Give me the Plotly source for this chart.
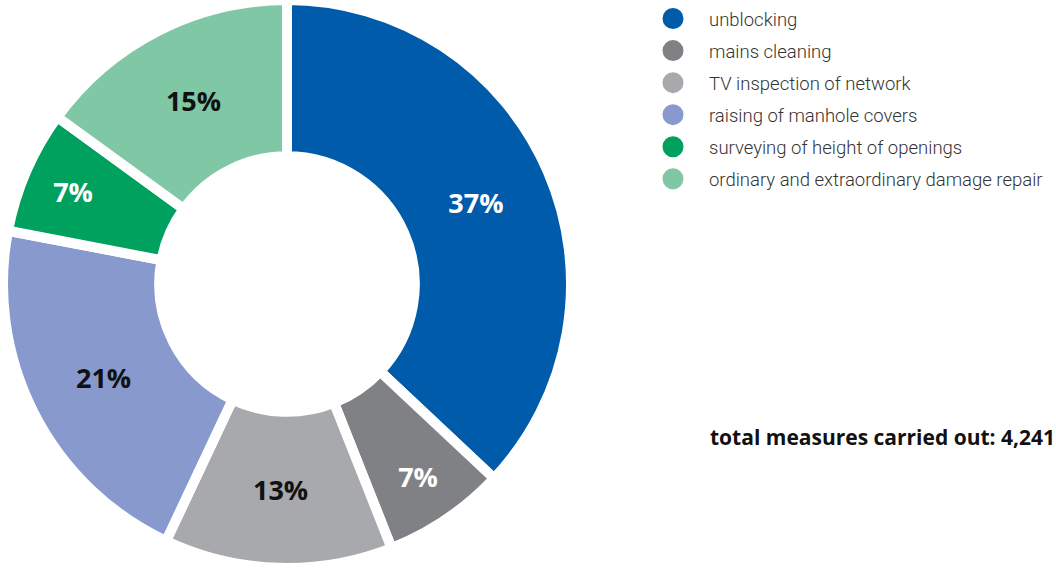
import plotly.graph_objects as go

categories = ["unblocking", "mains cleaning", "TV inspection of network",
              "raising of manhole covers", "surveying of height of openings",
              "ordinary and extraordinary damage repair"]
shares = [37, 7, 13, 21, 7, 15]
colors = ["#005BAA", "#808184", "#A7A9AC", "#8899CD", "#00A05E", "#7FC7A5"]
label_colors = ["white", "white", "#111111", "#111111", "white", "#111111"]
total_text = "total measures carried out: 4,241"

W, H = 1056, 568
cx, cy, R = 287, 284, 284

fig = go.Figure()
fig.add_trace(go.Pie(
    labels=categories, values=shares, sort=False, direction="clockwise", rotation=0,
    hole=0.45,
    marker=dict(colors=colors, line=dict(color="white", width=10)),
    texttemplate="%{percent:.0%}", textposition="inside", insidetextorientation="horizontal",
    insidetextfont=dict(color=label_colors, size=27, family="Open Sans", weight="bold"),
    showlegend=False, hoverinfo="label+percent",
    domain=dict(x=[(cx - R) / W, (cx + R) / W], y=[0, 1]),
))

for i, (name, col) in enumerate(zip(categories, colors)):
    fig.add_trace(go.Scatter(
        x=[None], y=[None], mode="markers", name=name, legendgroup=f"g{i}",
        marker=dict(color=col, size=16, line=dict(color=col, width=5)),
    ))

fig.add_annotation(
    text="<b>" + total_text + "</b>", xref="paper", yref="paper",
    x=708 / W, y=1 - 437 / H, xanchor="left", yanchor="middle", showarrow=False,
    font=dict(family="Open Sans", size=21, color="#111111"),
)

fig.update_layout(
    width=W, height=H, margin=dict(l=0, r=0, t=0, b=0),
    paper_bgcolor="white", plot_bgcolor="white",
    xaxis=dict(visible=False), yaxis=dict(visible=False),
    legend=dict(x=637 / W, y=1.0, xanchor="left", yanchor="top",
                font=dict(family="Roboto", size=18.5, color="#333333", weight=300),
                itemwidth=62, tracegroupgap=5, traceorder="grouped",
                bgcolor="rgba(0,0,0,0)"),
)

fig.write_html("out.html")
